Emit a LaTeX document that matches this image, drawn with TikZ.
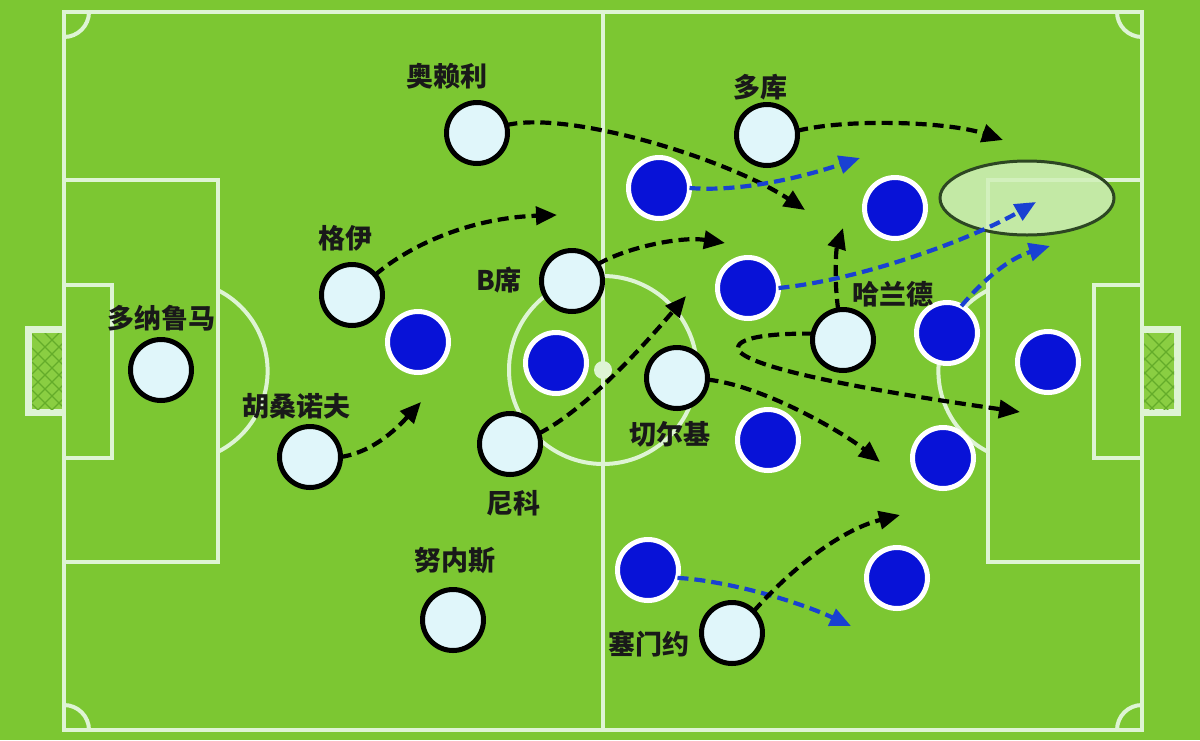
\documentclass[tikz,border=0pt]{standalone}
\usepackage{fontspec}
\newfontfamily\cjk{Noto Sans CJK SC}
\usetikzlibrary{arrows.meta}
\definecolor{grass}{RGB}{124,199,50}
\definecolor{fline}{RGB}{222,244,212}
\definecolor{netg}{RGB}{138,206,66}
\definecolor{netl}{RGB}{100,172,42}
\definecolor{homec}{RGB}{224,246,250}
\definecolor{awayc}{RGB}{8,18,215}
\definecolor{bluearr}{RGB}{25,65,210}
\definecolor{zone}{RGB}{208,240,186}
\definecolor{zoneb}{RGB}{45,70,35}
\tikzset{
  home/.style={circle,draw=black,fill=homec,line width=5pt,minimum size=61pt,inner sep=0pt,outer sep=0pt},
  away/.style={circle,draw=white,fill=awayc,line width=5pt,minimum size=61pt,inner sep=0pt,outer sep=0pt},
  lbl/.style={font=\cjk\bfseries\fontsize{27}{27}\selectfont,text=black!90,inner sep=0pt},
  run/.style={line width=4.2pt,dash pattern=on 11pt off 6pt,-{Triangle[length=21pt,width=18pt]}},
  brun/.style={run,draw=bluearr},
  fieldline/.style={draw=fline,line width=4pt},
  netline/.style={draw=netl,line width=1.3pt},
}
\begin{document}
\begin{tikzpicture}[x=1pt,y=-1pt]
\useasboundingbox (0,0) rectangle (1200,740);
\fill[grass] (0,0) rectangle (1200,740);
% goals
\fill[fline] (25,326) rectangle (64,416);
\fill[netg] (32,333) rectangle (62,409);
\begin{scope}
  \clip (32,333) rectangle (62,409);
  \foreach \k in {0,...,8} {
    \draw[netline] (32,320+\k*14) -- (72,360+\k*14);
    \draw[netline] (32,360+\k*14) -- (72,320+\k*14);
  }
\end{scope}
\fill[fline] (1142,326) rectangle (1181,416);
\fill[netg] (1144,333) rectangle (1174,409);
\begin{scope}
  \clip (1144,333) rectangle (1174,409);
  \foreach \k in {0,...,8} {
    \draw[netline] (1134,320+\k*14) -- (1184,370+\k*14);
    \draw[netline] (1134,370+\k*14) -- (1184,320+\k*14);
  }
\end{scope}
% field lines
\draw[fieldline] (64,12) rectangle (1142,730);
\draw[fieldline] (603,12) -- (603,730);
\draw[fieldline] (603,370) circle[radius=94pt];
\fill[fline] (603,370) circle[radius=9pt];
\draw[fieldline] (64,180) rectangle (218,562);
\draw[fieldline] (64,285) rectangle (112,458);
\draw[fieldline] (988,180) rectangle (1142,562);
\draw[fieldline] (1094,285) rectangle (1142,458);
\draw[fieldline] (177,371) ++(-63.1:90.6pt) arc[start angle=-63.1,end angle=63.1,radius=90.6pt];
\draw[fieldline] (1029,371) ++(116.9:90.6pt) arc[start angle=116.9,end angle=243.1,radius=90.6pt];
\draw[fieldline] (64,12) ++(0:25pt) arc[start angle=0,end angle=-90,radius=25pt];
\draw[fieldline] (1142,12) ++(180:25pt) arc[start angle=180,end angle=270,radius=25pt];
\draw[fieldline] (64,730) ++(0:25pt) arc[start angle=0,end angle=90,radius=25pt];
\draw[fieldline] (1142,730) ++(180:25pt) arc[start angle=180,end angle=90,radius=25pt];
% target zone
\draw[draw=zoneb,line width=3pt,fill=zone,fill opacity=0.85] (1027,198) ellipse[x radius=87pt,y radius=37pt];
% home players
\node[home] (dn) at (161,370) {};
\node[home] (hs) at (310,457) {};
\node[home] (gy) at (352,295) {};
\node[home] (ory) at (477,133) {};
\node[home] (bx) at (572,281) {};
\node[home] (nk) at (510,444) {};
\node[home] (nn) at (453,620) {};
\node[home] (ck) at (677,378) {};
\node[home] (dk) at (767,135) {};
\node[home] (hl) at (843,340) {};
\node[home] (sm) at (732,633) {};
% away players
\node[away] (b1) at (659,188) {};
\node[away] (b2) at (418,342) {};
\node[away] (b3) at (556,363) {};
\node[away] (b4) at (748,288) {};
\node[away] (b5) at (895,208) {};
\node[away] (b6) at (947,333) {};
\node[away] (b7) at (1048,362) {};
\node[away] (b8) at (768,440) {};
\node[away] (b9) at (943,458) {};
\node[away] (b10) at (648,570) {};
\node[away] (b11) at (897,578) {};
% labels
\node[lbl] (l1) at (161,318) {多纳鲁马};
\node[lbl] (l2) at (296,406) {胡桑诺夫};
\node[lbl] (l3) at (345,238) {格伊};
\node[lbl] (l4) at (447,76) {奥赖利};
\node[lbl] (l5) at (499,280) {B席};
\node[lbl] (l6) at (513,503) {尼科};
\node[lbl] (l7) at (455,560) {努内斯};
\node[lbl] (l8) at (670,434) {切尔基};
\node[lbl] (l9) at (760,87) {多库};
\node[lbl] (l10) at (893,294) {哈兰德};
\node[lbl] (l11) at (649,644) {塞门约};
% arrow targets
\coordinate (t1) at (805,210);
\coordinate (t2) at (1003,140);
\coordinate (t3) at (860,158);
\coordinate (t4) at (557,215);
\coordinate (t5) at (725,243);
\coordinate (t6) at (421,402);
\coordinate (t7) at (686,296);
\coordinate (t8) at (880,462);
\coordinate (t9) at (843,228);
\coordinate (t10) at (1020,412);
\coordinate (t11) at (1036,202);
\coordinate (t12) at (1050,246);
\coordinate (t13) at (851,626);
\coordinate (t14) at (900,515);
% runs
\draw[run] (ory.15) .. controls (570,110) and (730,160) .. (t1);
\draw[run] (dk.8) .. controls (850,118) and (950,122) .. (t2);
\draw[brun] (b1.0) .. controls (740,192) and (800,178) .. (t3);
\draw[run] (gy.41) .. controls (410,245) and (470,218) .. (t4);
\draw[run] (bx.33) .. controls (625,248) and (680,236) .. (t5);
\draw[run] (hs.0) .. controls (375,452) and (400,425) .. (t6);
\draw[run] (nk.20) .. controls (585,410) and (640,350) .. (t7);
\draw[run] (ck.-3) .. controls (760,385) and (840,430) .. (t8);
\draw[run] (hl.99) .. controls (834,280) and (836,250) .. (t9);
\draw[run] (hl.168) .. controls (760,333) and (730,340) .. (740,352) .. controls (760,372) and (900,395) .. (t10);
\draw[brun] (b4.0) .. controls (860,280) and (970,240) .. (t11);
\draw[brun] (b6.62) .. controls (985,278) and (1010,258) .. (t12);
\draw[brun] (b10.-15) .. controls (720,580) and (790,598) .. (t13);
\draw[run] (sm.45) .. controls (790,570) and (840,530) .. (t14);
\end{tikzpicture}
\end{document}
